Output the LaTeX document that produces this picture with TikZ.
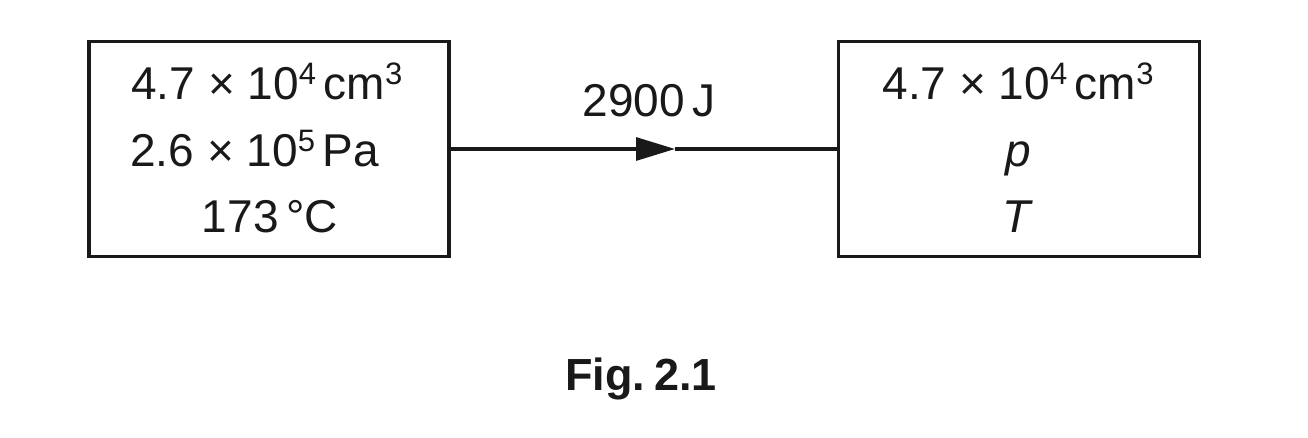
\documentclass[tikz,border=0pt]{standalone}
\usepackage{fontspec}
\setmainfont{Liberation Sans}
\usetikzlibrary{arrows.meta}
\newcommand{\pw}[1]{\raisebox{7.5pt}{\fontsize{15.5}{15.5}\selectfont #1}}

\begin{document}
\begin{tikzpicture}[x=0.5pt, y=-0.5pt,
  state/.style={draw=black!90, line width=1.6pt, minimum width=180pt, minimum height=107.5pt, inner sep=0pt},
  entry/.style={inner sep=0pt, text=black!90, font=\fontsize{23}{27}\selectfont},
  flow/.style={draw=black!90, line width=1.6pt}]
  \useasboundingbox (0,0) rectangle (1308,438);

  % the two states
  \node[state] (before) at (269,149) {};
  \node[state, minimum width=180.5pt] (after) at (1019,149) {};

  \node[entry, anchor=base west] (vola) at (131,100) {4.7 × 10\pw{4}\,cm\pw{3}};
  \node[entry, anchor=base west] (pa) at (130,167) {2.6 × 10\pw{5}\,Pa};
  \node[entry, anchor=base] (ta) at (270,233) {173\,°C};

  \node[entry, anchor=base] (volb) at (1018,100) {4.7 × 10\pw{4}\,cm\pw{3}};
  \node[entry, anchor=base] (pb) at (1018,167) {\textit{p}};
  \node[entry, anchor=base] (tb) at (1018,233) {\textit{T}};

  % energy supplied
  \coordinate (tip) at (675,149);
  \draw[flow, -{Triangle[length=19.5pt, width=11.5pt]}] (before) -- (tip);
  \draw[flow] (tip) -- (after);
  \node[entry, anchor=base] (heat) at (649,117) {2900\,J};

  \node[anchor=base, inner sep=0pt, text=black!90, font=\bfseries\fontsize{22.5}{27}\selectfont] (cap) at (641,391) {Fig.\kern0.2em 2.1};
\end{tikzpicture}
\end{document}
